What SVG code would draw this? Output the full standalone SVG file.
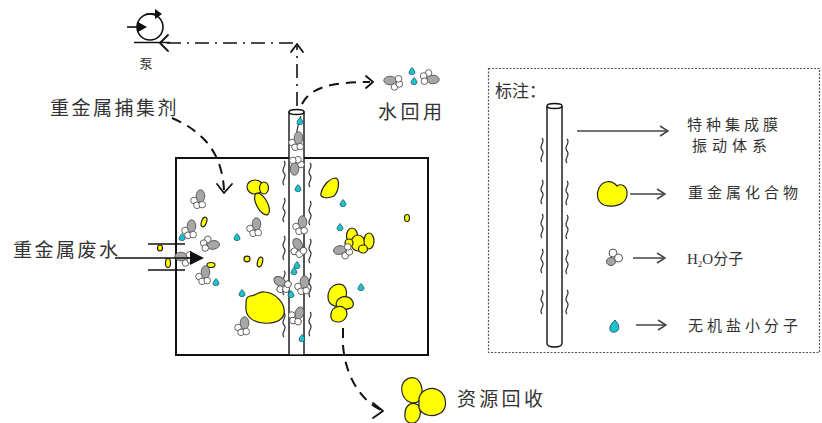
<svg xmlns="http://www.w3.org/2000/svg" width="822" height="423" viewBox="0 0 822 423">
<style>
  .t{font-family:"Noto Sans CJK SC","Liberation Sans",sans-serif;fill:#333}
  .lbl{font-size:19px;letter-spacing:2.5px}
  .leg{font-size:15px;letter-spacing:4px}
  .ln{fill:none;stroke:#111;stroke-width:1.6}
  .dash{fill:none;stroke:#111;stroke-width:2;stroke-dasharray:10 7}
  .dd{fill:none;stroke:#111;stroke-width:1.6;stroke-dasharray:14 6 2 6}
  .head{fill:none;stroke:#111;stroke-width:1.8;stroke-linecap:round;stroke-linejoin:round}
  .y{fill:#ffff00;stroke:#222;stroke-width:1.2}
  .w{fill:none;stroke:#333;stroke-width:1.2}
  .tube{fill:#fff;stroke:#111;stroke-width:1.4}
  .la{fill:none;stroke:#444;stroke-width:1.5}
</style>
<defs>
  <g id="h2o">
    <ellipse cx="2.5" cy="-3" rx="4.3" ry="6.2" fill="#a6a6a6" stroke="#555" stroke-width="0.9"/>
    <circle cx="-4" cy="1.5" r="3.3" fill="#fff" stroke="#555" stroke-width="0.9"/>
    <circle cx="-1" cy="6.3" r="3.3" fill="#fff" stroke="#555" stroke-width="0.9"/>
    <circle cx="4.2" cy="5.6" r="3.3" fill="#fff" stroke="#555" stroke-width="0.9"/>
  </g>
  <path id="ion" d="M0,-3.5 C2,-1.6 3.3,0.5 2.9,2.2 C2.4,3.9 -1.8,4.1 -2.9,2.4 C-3.5,0.9 -1.6,-1.6 0,-3.5 Z" fill="#19c3cc" stroke="#245" stroke-width="0.7"/>
  <path id="wave" class="w" d="M0,0 c4,4 -4,8 0,12 c4,4 -4,8 0,12"/>
  <marker id="open" viewBox="0 0 10 12" refX="9" refY="6" markerUnits="userSpaceOnUse" markerWidth="10" markerHeight="12" orient="auto">
    <path d="M1,1 L9,6 L1,11" fill="none" stroke="#444" stroke-width="1.5"/>
  </marker>
</defs>

<!-- pump -->
<g id="pump">
  <circle cx="150" cy="27" r="13" fill="#fff" stroke="#111" stroke-width="1.6"/>
  <line x1="127" y1="27" x2="140" y2="27" class="ln"/>
  <polygon points="138,22 147,27 138,32" fill="#111"/>
  <line x1="146" y1="14" x2="160" y2="14" class="ln"/>
  <polygon points="155,9 162,14 155,19" fill="#111"/>
  <line x1="134" y1="42.5" x2="170" y2="42.5" class="ln"/>
  <text x="146" y="68" class="t" font-size="13" text-anchor="middle">泵</text>
</g>

<!-- reaction tank -->
<g id="tank">
  <rect x="176" y="158" width="252" height="197" fill="#fff" stroke="#111" stroke-width="2"/>
</g>

<!-- membrane tube in tank -->
<g id="membrane">
  <rect x="289" y="112" width="15" height="243" class="tube"/>
  <ellipse cx="296.5" cy="112" rx="7.5" ry="2.5" class="tube"/>
  <path class="w" d="M301,116 c-3,6 -4,14 -5,22"/>
  <use href="#wave" x="284" y="161"/>
  <use href="#wave" x="284" y="198"/>
  <use href="#wave" x="284" y="236"/>
  <use href="#wave" x="284" y="271"/>
  <use href="#wave" x="284" y="313"/>
  <use href="#wave" x="310" y="163"/>
  <use href="#wave" x="310" y="201"/>
  <use href="#wave" x="310" y="239"/>
  <use href="#wave" x="310" y="273"/>
  <use href="#wave" x="310" y="312"/>
</g>

<!-- particles inside the tank -->
<g id="particles">
  <!-- heavy metal compounds -->
  <ellipse class="y" cx="255" cy="187" rx="8" ry="7"/>
  <ellipse class="y" cx="264" cy="188" rx="4.5" ry="6"/>
  <ellipse class="y" cx="262" cy="204" rx="5.5" ry="12" transform="rotate(-28 262 204)"/>
  <path class="y" d="M321,193 C323,185 330,178 336,178 C340,180 339,191 334,196 C328,199 319,198 321,193 Z"/>
  <ellipse class="y" cx="407" cy="218" rx="2.5" ry="3.5"/>
  <ellipse class="y" cx="204" cy="222" rx="2.5" ry="5" transform="rotate(20 204 222)"/>
  <ellipse class="y" cx="352" cy="236" rx="5.5" ry="8"/>
  <ellipse class="y" cx="358" cy="243" rx="7" ry="8"/>
  <ellipse class="y" cx="349" cy="243" rx="4" ry="4"/>
  <ellipse class="y" cx="369" cy="241" rx="5" ry="8"/>
  <ellipse class="y" cx="363" cy="249" rx="4.5" ry="4"/>
  <ellipse class="y" cx="160" cy="248" rx="2.5" ry="3"/>
  <ellipse class="y" cx="168" cy="263" rx="2.5" ry="4.5"/>
  <ellipse class="y" cx="211" cy="265" rx="4" ry="2.5"/>
  <ellipse class="y" cx="247" cy="259" rx="3" ry="2.8"/>
  <ellipse class="y" cx="260" cy="262" rx="2.5" ry="5" transform="rotate(15 260 262)"/>
  <path class="y" d="M250,296 C256,296 258,291 265,292 C276,293 286,304 284,314 C282,322 271,324 263,323 C252,322 245,316 246,306 C246,300 246,297 250,296 Z"/>
  <path class="y" d="M328,297 C328,287 336,282 343,285 C348,289 347,297 344,303 C338,309 328,306 328,297 Z"/>
  <path class="y" d="M337,301 C341,295 350,295 353,302 C355,308 348,310 341,309 C336,308 335,304 337,301 Z"/>
  <path class="y" d="M331,314 C332,306 342,304 346,310 C349,316 344,322 338,322 C332,322 330,318 331,314 Z"/>
  <!-- water molecules -->
  <use href="#h2o" x="198" y="199"/>
  <use href="#h2o" x="189" y="229"/>
  <use href="#h2o" transform="translate(210 243) rotate(80)"/>
  <use href="#h2o" transform="translate(184 259) rotate(-90)"/>
  <use href="#h2o" x="203" y="275"/>
  <use href="#h2o" x="254" y="227"/>
  <use href="#h2o" x="242" y="326"/>
  <use href="#h2o" transform="translate(281 285) rotate(-60)"/>
  <use href="#h2o" transform="translate(343 252) rotate(-100)"/>
  <use href="#h2o" transform="translate(297 166) rotate(180)"/>
  <use href="#h2o" x="300" y="225"/>
  <use href="#h2o" transform="translate(297 248) rotate(-30)"/>
  <use href="#h2o" x="302" y="285"/>
  <use href="#h2o" transform="translate(296 315) rotate(20)"/>
  <use href="#h2o" x="296" y="141"/>
  <!-- inorganic salt ions -->
  <use href="#ion" x="182" y="237"/>
  <use href="#ion" x="237" y="237"/>
  <use href="#ion" x="216" y="282"/>
  <use href="#ion" x="242" y="293"/>
  <use href="#ion" x="298" y="188"/>
  <use href="#ion" x="297" y="265"/>
  <use href="#ion" x="294" y="271"/>
  <use href="#ion" x="291" y="294"/>
  <use href="#ion" x="302" y="338"/>
  <use href="#ion" x="343" y="203"/>
  <use href="#ion" x="340" y="227"/>
  <use href="#ion" x="361" y="287"/>
  <use href="#ion" x="300" y="121"/>
</g>

<!-- inlet pipe -->
<g id="inlet">
  <line x1="148" y1="244" x2="185" y2="244" class="ln"/>
  <line x1="148" y1="270" x2="185" y2="270" class="ln"/>
  <line x1="115" y1="258" x2="192" y2="258" class="ln"/>
  <polygon points="190,251 204,258 190,265" fill="#111"/>
</g>

<!-- recovered water -->
<g id="water-out">
  <use href="#h2o" transform="translate(393 83) rotate(-90)"/>
  <use href="#h2o" transform="translate(430 77) rotate(90)"/>
  <use href="#ion" x="412" y="71"/>
  <use href="#ion" x="414" y="81"/>
  <text x="378" y="119" class="t lbl" style="letter-spacing:3.5px">水回用</text>
</g>

<!-- recovered resources -->
<g id="resource">
  <path class="y" d="M402,392 C400,382 408,376 415,378 C422,381 424,392 420,400 C414,406 404,402 402,392 Z"/>
  <path class="y" d="M405,414 C405,405 412,401 418,405 C422,410 421,420 414,423 C408,424 404,420 405,414 Z"/>
  <path class="y" d="M419,398 C421,390 431,386 438,390 C446,394 448,406 442,412 C434,418 422,416 419,408 Z"/>
  <text x="457" y="406" class="t lbl" style="letter-spacing:3.3px">资源回收</text>
</g>

<g id="labels">
  <text x="50" y="115" class="t lbl">重金属捕集剂</text>
  <text x="13" y="257" class="t lbl">重金属废水</text>
</g>

<!-- connectors -->
<g id="connectors">
  <path class="dd" d="M297,106 L297,46"/>
  <path class="head" d="M291,52 L297,44 L303,52"/>
  <path class="dd" d="M293,43 L163,43"/>
  <path class="head" d="M168,35 L160,43 L168,51"/>
  <path class="dash" d="M172,118 C200,130 222,150 224,190"/>
  <path class="head" d="M217,184 L224,193 L232,184"/>
  <path class="dash" d="M302,104 C310,88 330,82 370,82"/>
  <path class="head" d="M366,76 L373,82 L366,88"/>
  <path class="dash" d="M343,328 L343,345 C345,375 360,400 381,410"/>
  <path class="head" d="M373,403 L383,411 L373,418"/>
</g>

<!-- legend -->
<g id="legend">
  <rect x="488.5" y="68.5" width="331" height="284" fill="none" stroke="#555" stroke-width="1.2" stroke-dasharray="2 1.5"/>
  <text x="495" y="97" class="t" font-size="17">标注：</text>
  <path class="tube" d="M547,106 L547,343 Q547,347 554.5,347 Q562,347 562,343 L562,106"/>
  <ellipse cx="554.5" cy="106" rx="7.5" ry="2.5" class="tube"/>
  <use href="#wave" x="542" y="138"/>
  <use href="#wave" x="542" y="180"/>
  <use href="#wave" x="542" y="214"/>
  <use href="#wave" x="542" y="249"/>
  <use href="#wave" x="542" y="290"/>
  <use href="#wave" x="567" y="139"/>
  <use href="#wave" x="567" y="181"/>
  <use href="#wave" x="567" y="215"/>
  <use href="#wave" x="567" y="250"/>
  <use href="#wave" x="567" y="290"/>
  <line x1="577" y1="131" x2="668" y2="131" class="la" marker-end="url(#open)"/>
  <text x="687" y="130" class="t leg">特种集成膜</text>
  <text x="692" y="151" class="t leg" style="letter-spacing:5px">振动体系</text>

  <path class="y" d="M599,188 C603,180 612,180 617,186 C621,183 628,186 627,195 C626,205 613,208 604,205 C597,202 596,194 599,188 Z"/>
  <line x1="630" y1="194" x2="665" y2="194" class="la" marker-end="url(#open)"/>
  <text x="688" y="198" class="t leg">重金属化合物</text>

  <circle cx="613" cy="253" r="4" fill="#fff" stroke="#555" stroke-width="1"/>
  <ellipse cx="611" cy="261.5" rx="4.5" ry="4" fill="#a6a6a6" stroke="#555" stroke-width="1"/>
  <circle cx="618.5" cy="258" r="4" fill="#fff" stroke="#555" stroke-width="1"/>
  <line x1="633" y1="258" x2="665" y2="258" class="la" marker-end="url(#open)"/>
  <text x="687" y="264" class="t" font-size="15"><tspan font-family="'Liberation Serif',serif">H</tspan><tspan font-family="'Liberation Serif',serif" font-size="9" dy="3">2</tspan><tspan font-family="'Liberation Serif',serif" dy="-3">O</tspan><tspan>分子</tspan></text>

  <path d="M615,320 C618,323 620,327 618,330 C616,333 611,333 610,330 C609,326 612,323 615,320 Z" fill="#19c3cc" stroke="#245" stroke-width="0.8"/>
  <line x1="636" y1="325" x2="666" y2="325" class="la" marker-end="url(#open)"/>
  <text x="688" y="331" class="t leg">无机盐小分子</text>
</g>
</svg>
